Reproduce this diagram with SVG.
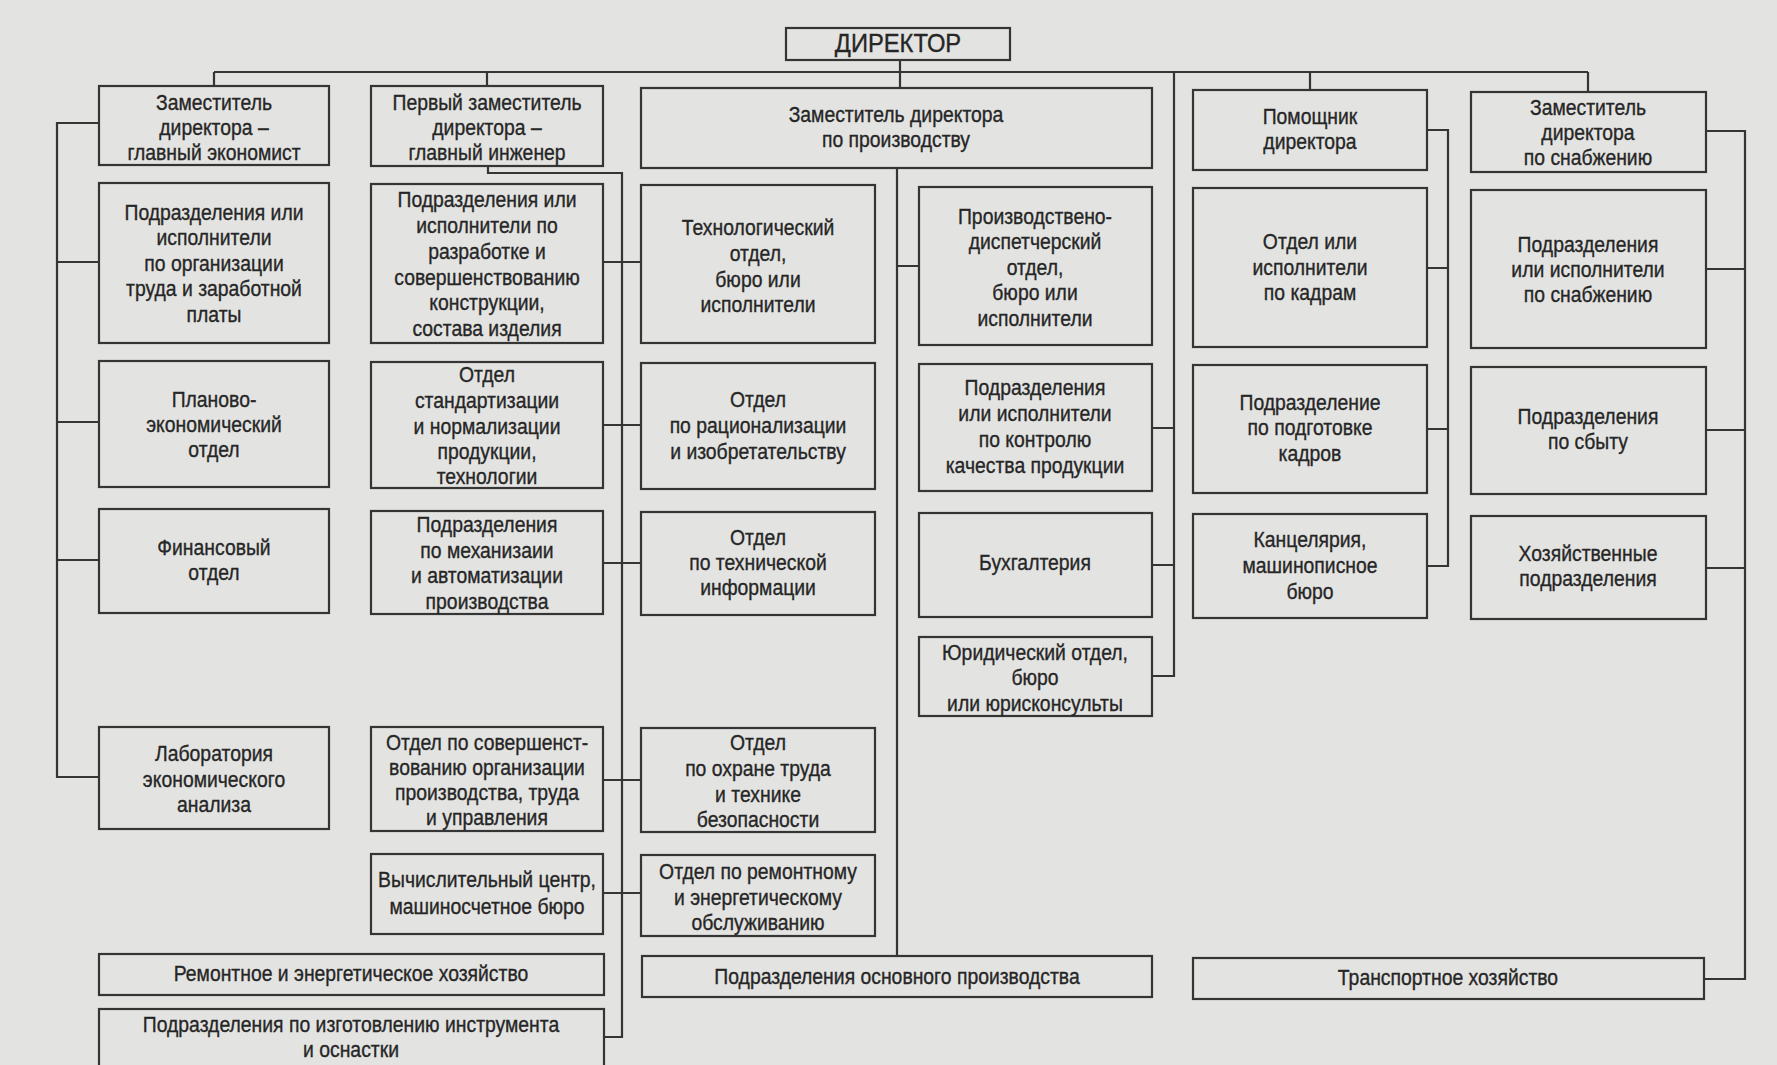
<svg xmlns="http://www.w3.org/2000/svg" width="1777" height="1065" viewBox="0 0 1777 1065">
  <style>
    .bg { fill: #e3e3e1; }
    .box { fill: none; stroke: #353535; stroke-width: 2.2; }
    .wire { fill: none; stroke: #353535; stroke-width: 2.2; }
    .t { font-family: 'Liberation Sans', Arial, sans-serif; font-size: 22px; fill: #262626; stroke: #262626; stroke-width: 0.35; text-anchor: middle; }
    .h { font-size: 25px; }
  </style>

  <rect class="bg" x="0" y="0" width="1777" height="1065"/>

  <!-- connecting lines -->
  <g id="connectors">
    <path class="wire" d="M900 60 V88"/>
    <path class="wire" d="M214 72 H1588 M214 72 V86 M487 72 V86 M1310 72 V90 M1588 72 V92"/>
    <!-- chief economist branch -->
    <path class="wire" d="M99 123 H57 V777 H99 M57 262 H99 M57 422 H99 M57 560 H99"/>
    <!-- chief engineer branch -->
    <path class="wire" d="M488 166 V173 H622 V1037 H604 M603 262 H641 M603 425 H641 M603 563 H641 M603 780 H641 M603 893 H641"/>
    <!-- production deputy branch -->
    <path class="wire" d="M897 168 V956 M897 266 H919"/>
    <path class="wire" d="M1174 72 V676 H1152 M1152 428 H1174 M1152 565 H1174"/>
    <!-- assistant branch -->
    <path class="wire" d="M1427 130 H1448 V566 H1427 M1427 268 H1448 M1427 429 H1448"/>
    <!-- supply deputy branch -->
    <path class="wire" d="M1706 131 H1745 V979 H1704 M1706 269 H1745 M1706 430 H1745 M1706 568 H1745"/>
  </g>

  <g id="director">
    <rect class="box" x="786" y="28" width="224" height="32"/>
    <text class="t h" transform="matrix(0.95 0 0 1 898 0)"><tspan x="0" y="52">ДИРЕКТОР</tspan></text>
  </g>

  <!-- deputies -->
  <g id="chief-economist">
    <rect class="box" x="99" y="86" width="230" height="79"/>
    <text class="t" transform="matrix(0.88 0 0 1 214 0)"><tspan x="0" y="110">Заместитель</tspan><tspan x="0" y="135">директора –</tspan><tspan x="0" y="160">главный экономист</tspan></text>
  </g>
  <g id="chief-engineer">
    <rect class="box" x="371" y="86" width="232" height="80"/>
    <text class="t" transform="matrix(0.88 0 0 1 487 0)"><tspan x="0" y="110">Первый заместитель</tspan><tspan x="0" y="135">директора –</tspan><tspan x="0" y="160">главный инженер</tspan></text>
  </g>
  <g id="production-deputy">
    <rect class="box" x="641" y="88" width="511" height="80"/>
    <text class="t" transform="matrix(0.88 0 0 1 896 0)"><tspan x="0" y="122">Заместитель директора</tspan><tspan x="0" y="147">по производству</tspan></text>
  </g>
  <g id="assistant">
    <rect class="box" x="1193" y="90" width="234" height="80"/>
    <text class="t" transform="matrix(0.88 0 0 1 1310 0)"><tspan x="0" y="124">Помощник</tspan><tspan x="0" y="149">директора</tspan></text>
  </g>
  <g id="supply-deputy">
    <rect class="box" x="1471" y="92" width="235" height="80"/>
    <text class="t" transform="matrix(0.88 0 0 1 1588 0)"><tspan x="0" y="115">Заместитель</tspan><tspan x="0" y="140">директора</tspan><tspan x="0" y="165">по снабжению</tspan></text>
  </g>

  <!-- second row -->
  <g id="labour-org">
    <rect class="box" x="99" y="183" width="230" height="160"/>
    <text class="t" transform="matrix(0.88 0 0 1 214 0)"><tspan x="0" y="220">Подразделения или</tspan><tspan x="0" y="245.5">исполнители</tspan><tspan x="0" y="271">по организации</tspan><tspan x="0" y="296.5">труда и заработной</tspan><tspan x="0" y="322">платы</tspan></text>
  </g>
  <g id="design-dev">
    <rect class="box" x="371" y="184" width="232" height="159"/>
    <text class="t" transform="matrix(0.88 0 0 1 487 0)"><tspan x="0" y="207">Подразделения или</tspan><tspan x="0" y="233">исполнители по</tspan><tspan x="0" y="259">разработке и</tspan><tspan x="0" y="285">совершенствованию</tspan><tspan x="0" y="310">конструкции,</tspan><tspan x="0" y="336">состава изделия</tspan></text>
  </g>
  <g id="technology">
    <rect class="box" x="641" y="185" width="234" height="158"/>
    <text class="t" transform="matrix(0.88 0 0 1 758 0)"><tspan x="0" y="235">Технологический</tspan><tspan x="0" y="261">отдел,</tspan><tspan x="0" y="287">бюро или</tspan><tspan x="0" y="312">исполнители</tspan></text>
  </g>
  <g id="dispatch">
    <rect class="box" x="919" y="187" width="233" height="158"/>
    <text class="t" transform="matrix(0.88 0 0 1 1035 0)"><tspan x="0" y="224">Производствено-</tspan><tspan x="0" y="249.5">диспетчерский</tspan><tspan x="0" y="275">отдел,</tspan><tspan x="0" y="300.5">бюро или</tspan><tspan x="0" y="326">исполнители</tspan></text>
  </g>
  <g id="personnel">
    <rect class="box" x="1193" y="188" width="234" height="159"/>
    <text class="t" transform="matrix(0.88 0 0 1 1310 0)"><tspan x="0" y="249">Отдел или</tspan><tspan x="0" y="275">исполнители</tspan><tspan x="0" y="300">по кадрам</tspan></text>
  </g>
  <g id="supply">
    <rect class="box" x="1471" y="190" width="235" height="158"/>
    <text class="t" transform="matrix(0.88 0 0 1 1588 0)"><tspan x="0" y="252">Подразделения</tspan><tspan x="0" y="277">или исполнители</tspan><tspan x="0" y="302">по снабжению</tspan></text>
  </g>

  <!-- third row -->
  <g id="planning">
    <rect class="box" x="99" y="361" width="230" height="126"/>
    <text class="t" transform="matrix(0.88 0 0 1 214 0)"><tspan x="0" y="407">Планово-</tspan><tspan x="0" y="432">экономический</tspan><tspan x="0" y="457">отдел</tspan></text>
  </g>
  <g id="standards">
    <rect class="box" x="371" y="362" width="232" height="126"/>
    <text class="t" transform="matrix(0.88 0 0 1 487 0)"><tspan x="0" y="382">Отдел</tspan><tspan x="0" y="408">стандартизации</tspan><tspan x="0" y="434">и нормализации</tspan><tspan x="0" y="459">продукции,</tspan><tspan x="0" y="484">технологии</tspan></text>
  </g>
  <g id="rationalization">
    <rect class="box" x="641" y="363" width="234" height="126"/>
    <text class="t" transform="matrix(0.88 0 0 1 758 0)"><tspan x="0" y="407">Отдел</tspan><tspan x="0" y="433">по рационализации</tspan><tspan x="0" y="459">и изобретательству</tspan></text>
  </g>
  <g id="quality">
    <rect class="box" x="919" y="364" width="233" height="127"/>
    <text class="t" transform="matrix(0.88 0 0 1 1035 0)"><tspan x="0" y="395">Подразделения</tspan><tspan x="0" y="421">или исполнители</tspan><tspan x="0" y="447">по контролю</tspan><tspan x="0" y="473">качества продукции</tspan></text>
  </g>
  <g id="training">
    <rect class="box" x="1193" y="365" width="234" height="128"/>
    <text class="t" transform="matrix(0.88 0 0 1 1310 0)"><tspan x="0" y="410">Подразделение</tspan><tspan x="0" y="435">по подготовке</tspan><tspan x="0" y="461">кадров</tspan></text>
  </g>
  <g id="sales">
    <rect class="box" x="1471" y="367" width="235" height="127"/>
    <text class="t" transform="matrix(0.88 0 0 1 1588 0)"><tspan x="0" y="424">Подразделения</tspan><tspan x="0" y="449">по сбыту</tspan></text>
  </g>

  <!-- fourth row -->
  <g id="finance">
    <rect class="box" x="99" y="509" width="230" height="104"/>
    <text class="t" transform="matrix(0.88 0 0 1 214 0)"><tspan x="0" y="555">Финансовый</tspan><tspan x="0" y="580">отдел</tspan></text>
  </g>
  <g id="mechanization">
    <rect class="box" x="371" y="511" width="232" height="103"/>
    <text class="t" transform="matrix(0.88 0 0 1 487 0)"><tspan x="0" y="532">Подразделения</tspan><tspan x="0" y="558">по механизаии</tspan><tspan x="0" y="583">и автоматизации</tspan><tspan x="0" y="609">производства</tspan></text>
  </g>
  <g id="tech-info">
    <rect class="box" x="641" y="512" width="234" height="103"/>
    <text class="t" transform="matrix(0.88 0 0 1 758 0)"><tspan x="0" y="545">Отдел</tspan><tspan x="0" y="570">по технической</tspan><tspan x="0" y="595">информации</tspan></text>
  </g>
  <g id="accounting">
    <rect class="box" x="919" y="513" width="233" height="104"/>
    <text class="t" transform="matrix(0.88 0 0 1 1035 0)"><tspan x="0" y="570">Бухгалтерия</tspan></text>
  </g>
  <g id="office">
    <rect class="box" x="1193" y="514" width="234" height="104"/>
    <text class="t" transform="matrix(0.88 0 0 1 1310 0)"><tspan x="0" y="547">Канцелярия,</tspan><tspan x="0" y="573">машинописное</tspan><tspan x="0" y="599">бюро</tspan></text>
  </g>
  <g id="household">
    <rect class="box" x="1471" y="516" width="235" height="103"/>
    <text class="t" transform="matrix(0.88 0 0 1 1588 0)"><tspan x="0" y="561">Хозяйственные</tspan><tspan x="0" y="586">подразделения</tspan></text>
  </g>

  <g id="legal">
    <rect class="box" x="919" y="637" width="233" height="79"/>
    <text class="t" transform="matrix(0.88 0 0 1 1035 0)"><tspan x="0" y="660">Юридический отдел,</tspan><tspan x="0" y="685">бюро</tspan><tspan x="0" y="711">или юрисконсульты</tspan></text>
  </g>

  <!-- lower rows -->
  <g id="econ-lab">
    <rect class="box" x="99" y="727" width="230" height="102"/>
    <text class="t" transform="matrix(0.88 0 0 1 214 0)"><tspan x="0" y="761">Лаборатория</tspan><tspan x="0" y="787">экономического</tspan><tspan x="0" y="812">анализа</tspan></text>
  </g>
  <g id="org-improvement">
    <rect class="box" x="371" y="727" width="232" height="104"/>
    <text class="t" transform="matrix(0.88 0 0 1 487 0)"><tspan x="0" y="750">Отдел по совершенст-</tspan><tspan x="0" y="775">вованию организации</tspan><tspan x="0" y="800">производства, труда</tspan><tspan x="0" y="825">и управления</tspan></text>
  </g>
  <g id="safety">
    <rect class="box" x="641" y="728" width="234" height="104"/>
    <text class="t" transform="matrix(0.88 0 0 1 758 0)"><tspan x="0" y="750">Отдел</tspan><tspan x="0" y="776">по охране труда</tspan><tspan x="0" y="802">и технике</tspan><tspan x="0" y="827">безопасности</tspan></text>
  </g>
  <g id="computing">
    <rect class="box" x="371" y="854" width="232" height="80"/>
    <text class="t" transform="matrix(0.88 0 0 1 487 0)"><tspan x="0" y="887">Вычислительный центр,</tspan><tspan x="0" y="914">машиносчетное бюро</tspan></text>
  </g>
  <g id="maintenance">
    <rect class="box" x="641" y="855" width="234" height="81"/>
    <text class="t" transform="matrix(0.88 0 0 1 758 0)"><tspan x="0" y="879">Отдел по ремонтному</tspan><tspan x="0" y="905">и энергетическому</tspan><tspan x="0" y="930">обслуживанию</tspan></text>
  </g>

  <g id="repair-energy">
    <rect class="box" x="99" y="954" width="505" height="41"/>
    <text class="t" transform="matrix(0.88 0 0 1 351 0)"><tspan x="0" y="981">Ремонтное и энергетическое хозяйство</tspan></text>
  </g>
  <g id="main-production">
    <rect class="box" x="642" y="956" width="510" height="41"/>
    <text class="t" transform="matrix(0.88 0 0 1 897 0)"><tspan x="0" y="984">Подразделения основного производства</tspan></text>
  </g>
  <g id="transport">
    <rect class="box" x="1193" y="958" width="511" height="41"/>
    <text class="t" transform="matrix(0.88 0 0 1 1448 0)"><tspan x="0" y="985">Транспортное хозяйство</tspan></text>
  </g>
  <g id="tooling">
    <rect class="box" x="99" y="1009" width="505" height="62"/>
    <text class="t" transform="matrix(0.88 0 0 1 351 0)"><tspan x="0" y="1032">Подразделения по изготовлению инструмента</tspan><tspan x="0" y="1057">и оснастки</tspan></text>
  </g>
</svg>
